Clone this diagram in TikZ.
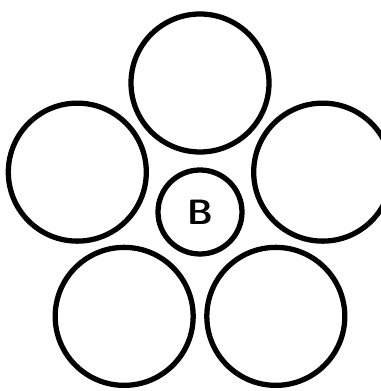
\documentclass[tikz,border=0pt]{standalone}
\usepackage{tikz}
\usetikzlibrary{positioning,calc}
\tikzset{
  bigring/.style={circle, draw=black, line width=3pt, minimum size=2.76cm, inner sep=0pt},
  hub/.style={circle, draw=black, line width=3pt, minimum size=1.68cm, inner sep=0pt,
    font=\sffamily\bfseries\fontsize{20}{20}\selectfont}
}

\begin{document}
\begin{tikzpicture}
    \useasboundingbox (0,0) rectangle (7.62,7.82);
    \clip (0,0) rectangle (7.62,7.82);
    \node[hub] (hubB) at (4.0,3.58) {B};
    \foreach \ang/\name in {90/top,162/left,18/right,234/lowleft,306/lowright} {
      \node[bigring] (ring-\name) at ($(hubB)+(\ang:2.58)$) {};
    }
  \end{tikzpicture}
\end{document}
